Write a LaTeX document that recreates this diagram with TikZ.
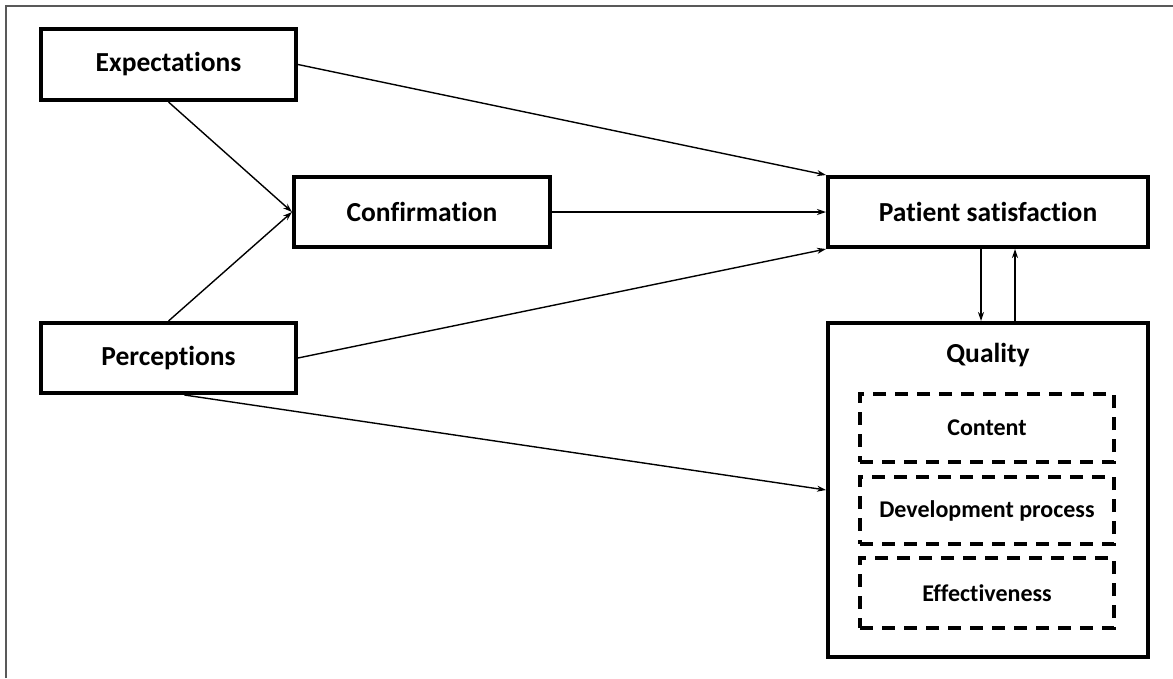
\documentclass[tikz,border=0pt]{standalone}
\usepackage{fontspec}
\setmainfont[Ligatures=NoCommon]{Carlito}
\usetikzlibrary{arrows.meta,calc}
\begin{document}
\begin{tikzpicture}[x=1pt,y=-1pt,
  mainbox/.style={draw, line width=4pt, inner sep=0pt, font=\fontsize{27.5}{33}\selectfont\bfseries},
  dashbox/.style={draw, line width=4pt, dash pattern=on 13pt off 9pt, inner sep=0pt, minimum width=254pt, font=\fontsize{24}{29}\selectfont\bfseries},
  conn/.style={line width=1.4pt, -{Stealth[length=9pt,width=6pt]}},
  frameline/.style={draw=black!65, line width=1.5pt}]
\useasboundingbox (0,0) rectangle (1173,678);
\draw[frameline] (6,678) -- (6,6) -- (1173,6);
\node[mainbox, minimum width=255pt, minimum height=71pt] (exp) at (168.5,64.5) {Expectations};
\node[mainbox, minimum width=255pt, minimum height=70pt] (perc) at (168.5,358) {Perceptions};
\node[mainbox, minimum width=256pt, minimum height=70pt] (conf) at (422,212) {Confirmation};
\node[mainbox, minimum width=320pt, minimum height=70pt] (ps) at (988,212) {Patient satisfaction};
\node[mainbox, minimum width=320pt, minimum height=334pt] (q) at (988,490) {};
\node[font=\fontsize{27.5}{33}\selectfont\bfseries] (qt) at (988,355) {Quality};
\node[dashbox, minimum height=68pt] (cont) at (987,428) {Content};
\node[dashbox, minimum height=67pt] (dev) at (987,510.5) {Development process};
\node[dashbox, minimum height=70pt] (eff) at (987,593) {Effectiveness};
\draw[conn] (exp.east) -- (ps.north west);
\draw[conn] (conf.east) -- (ps.west);
\draw[conn] (perc.east) -- (ps.south west);
\draw[conn] (exp.south) -- (conf.west);
\draw[conn] (perc.north) -- (conf.west);
\draw[conn] ([xshift=16pt]perc.south) -- (q.west);
\draw[conn] ([xshift=-7pt]ps.south) -- ([xshift=-7pt]q.north);
\draw[conn] ([xshift=27pt]q.north) -- ([xshift=27pt]ps.south);
\end{tikzpicture}
\end{document}
